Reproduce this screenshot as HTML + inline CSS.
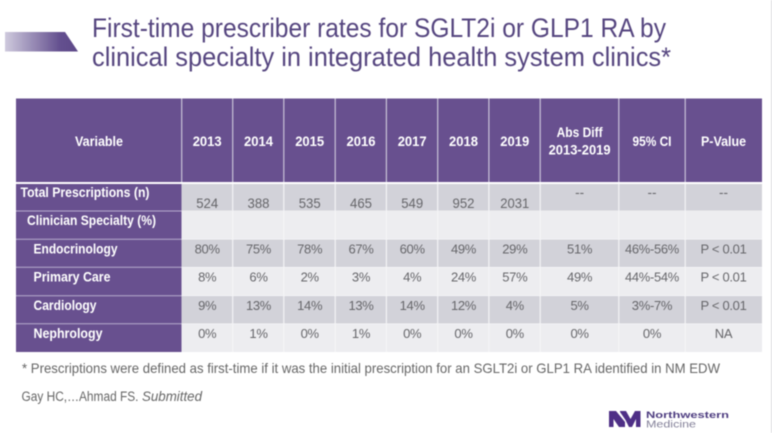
<!DOCTYPE html>
<html lang="en">
<head>
<meta charset="utf-8">
<title>First-time prescriber rates</title>
<style>
html,body{margin:0;padding:0;background:#fff;width:772px;height:433px;overflow:hidden}
svg{display:block;filter:blur(0.4px)}
text{font-family:"Liberation Sans",sans-serif}
.h{font-size:13.5px;font-weight:700;fill:#fff;text-anchor:middle}
.l{font-size:13.5px;font-weight:700;fill:#fff}
.v{font-size:13px;letter-spacing:-0.3px;fill:#66666a;text-anchor:middle}
.n{font-size:13.5px;fill:#66666a;text-anchor:middle}
.sep{stroke:#f4f4f6;stroke-width:1.2}
.hsep{stroke:#c9c3d8;stroke-width:1.2}
.rowline{stroke:#b7abcd;stroke-width:1}
</style>
</head>
<body>
<svg xmlns="http://www.w3.org/2000/svg" width="772" height="433" viewBox="0 0 772 433">
<defs>
<linearGradient id="arrowGrad" x1="0" x2="1" y1="0" y2="0">
<stop offset="0" stop-color="#cfcadd"/>
<stop offset="0.75" stop-color="#64508f"/>
<stop offset="1" stop-color="#5d4888"/>
</linearGradient>
</defs>
<rect x="0" y="0" width="772" height="433" fill="#fff"/>
<rect x="771" y="0" width="1" height="433" fill="#dcdcdf"/>
<polygon points="5,32 65,32 78,51.5 5,51.5" fill="url(#arrowGrad)"/>
<g fill="#55457f" font-size="27">
<text x="92" y="37" textLength="574" lengthAdjust="spacingAndGlyphs">First-time prescriber rates for SGLT2i or GLP1 RA by</text>
<text x="92" y="66" textLength="579" lengthAdjust="spacingAndGlyphs">clinical specialty in integrated health system clinics*</text>
</g>

<g>
<rect x="16" y="98.5" width="746" height="83.5" fill="#68508f"/>
<rect x="181.5" y="184" width="580.5" height="26.7" fill="#d2d2d9"/>
<rect x="181.5" y="211" width="580.5" height="28" fill="#ededf0"/>
<rect x="181.5" y="239.5" width="580.5" height="27.5" fill="#d2d2d9"/>
<rect x="181.5" y="267.5" width="580.5" height="28" fill="#ededf0"/>
<rect x="181.5" y="296" width="580.5" height="27.5" fill="#d2d2d9"/>
<rect x="181.5" y="324" width="580.5" height="28" fill="#ededf0"/>
<rect x="16" y="184" width="165.5" height="168" fill="#68508f"/>
<g>
<line class="rowline" x1="16" x2="181.5" y1="211" y2="211"/>
<line class="rowline" x1="16" x2="181.5" y1="239.2" y2="239.2"/>
<line class="rowline" x1="16" x2="181.5" y1="267.3" y2="267.3"/>
<line class="rowline" x1="16" x2="181.5" y1="295.7" y2="295.7"/>
<line class="rowline" x1="16" x2="181.5" y1="323.8" y2="323.8"/>
</g>
<g>
<line class="hsep" x1="181.7" x2="181.7" y1="98.5" y2="182"/>
<line class="hsep" x1="232.7" x2="232.7" y1="98.5" y2="182"/>
<line class="hsep" x1="283.8" x2="283.8" y1="98.5" y2="182"/>
<line class="hsep" x1="335.2" x2="335.2" y1="98.5" y2="182"/>
<line class="hsep" x1="386.4" x2="386.4" y1="98.5" y2="182"/>
<line class="hsep" x1="437.7" x2="437.7" y1="98.5" y2="182"/>
<line class="hsep" x1="488.9" x2="488.9" y1="98.5" y2="182"/>
<line class="hsep" x1="540.2" x2="540.2" y1="98.5" y2="182"/>
<line class="hsep" x1="618.8" x2="618.8" y1="98.5" y2="182"/>
<line class="hsep" x1="685.2" x2="685.2" y1="98.5" y2="182"/>
</g>
<g>
<line class="sep" x1="232.7" x2="232.7" y1="184" y2="352"/>
<line class="sep" x1="283.8" x2="283.8" y1="184" y2="352"/>
<line class="sep" x1="335.2" x2="335.2" y1="184" y2="352"/>
<line class="sep" x1="386.4" x2="386.4" y1="184" y2="352"/>
<line class="sep" x1="437.7" x2="437.7" y1="184" y2="352"/>
<line class="sep" x1="488.9" x2="488.9" y1="184" y2="352"/>
<line class="sep" x1="540.2" x2="540.2" y1="184" y2="352"/>
<line class="sep" x1="618.8" x2="618.8" y1="184" y2="352"/>
<line class="sep" x1="685.2" x2="685.2" y1="184" y2="352"/>
</g>

<g>
<text class="h" x="99" y="146" textLength="48" lengthAdjust="spacingAndGlyphs">Variable</text>
<text class="h" x="207.2" y="146" textLength="29" lengthAdjust="spacingAndGlyphs">2013</text>
<text class="h" x="258.5" y="146" textLength="29" lengthAdjust="spacingAndGlyphs">2014</text>
<text class="h" x="309.7" y="146" textLength="29" lengthAdjust="spacingAndGlyphs">2015</text>
<text class="h" x="361" y="146" textLength="29" lengthAdjust="spacingAndGlyphs">2016</text>
<text class="h" x="412.2" y="146" textLength="29" lengthAdjust="spacingAndGlyphs">2017</text>
<text class="h" x="463.5" y="146" textLength="29" lengthAdjust="spacingAndGlyphs">2018</text>
<text class="h" x="514.8" y="146" textLength="29" lengthAdjust="spacingAndGlyphs">2019</text>
<text class="h" x="579.6" y="137" textLength="46" lengthAdjust="spacingAndGlyphs">Abs Diff</text>
<text class="h" x="579.6" y="154.5" textLength="62" lengthAdjust="spacingAndGlyphs">2013-2019</text>
<text class="h" x="652" y="146" textLength="39" lengthAdjust="spacingAndGlyphs">95% CI</text>
<text class="h" x="723.5" y="146" textLength="45" lengthAdjust="spacingAndGlyphs">P-Value</text>
</g>

<g>
<text class="l" x="20.5" y="197" textLength="129" lengthAdjust="spacingAndGlyphs">Total Prescriptions (n)</text>
<text class="n" x="207.2" y="208" textLength="22" lengthAdjust="spacingAndGlyphs">524</text>
<text class="n" x="258.5" y="208" textLength="22" lengthAdjust="spacingAndGlyphs">388</text>
<text class="n" x="309.7" y="208" textLength="22" lengthAdjust="spacingAndGlyphs">535</text>
<text class="n" x="361" y="208" textLength="22" lengthAdjust="spacingAndGlyphs">465</text>
<text class="n" x="412.2" y="208" textLength="22" lengthAdjust="spacingAndGlyphs">549</text>
<text class="n" x="463.5" y="208" textLength="22" lengthAdjust="spacingAndGlyphs">952</text>
<text class="n" x="514.8" y="208" textLength="29" lengthAdjust="spacingAndGlyphs">2031</text>
<text class="n" x="579.6" y="197">--</text>
<text class="n" x="652" y="197">--</text>
<text class="n" x="723.5" y="197">--</text>
</g>

<text class="l" x="27" y="225" textLength="129" lengthAdjust="spacingAndGlyphs">Clinician Specialty (%)</text>

<g>
<text class="l" x="33.5" y="253.5" textLength="84" lengthAdjust="spacingAndGlyphs">Endocrinology</text>
<text class="v" x="207.2" y="253.5">80%</text>
<text class="v" x="258.5" y="253.5">75%</text>
<text class="v" x="309.7" y="253.5">78%</text>
<text class="v" x="361" y="253.5">67%</text>
<text class="v" x="412.2" y="253.5">60%</text>
<text class="v" x="463.5" y="253.5">49%</text>
<text class="v" x="514.8" y="253.5">29%</text>
<text class="v" x="579.6" y="253.5">51%</text>
<text class="v" x="652" y="253.5" textLength="54" lengthAdjust="spacingAndGlyphs">46%-56%</text>
<text class="v" x="723.5" y="253.5" textLength="46" lengthAdjust="spacingAndGlyphs">P &lt; 0.01</text>
</g>

<g>
<text class="l" x="33.5" y="281.7" textLength="77" lengthAdjust="spacingAndGlyphs">Primary Care</text>
<text class="v" x="207.2" y="281.7">8%</text>
<text class="v" x="258.5" y="281.7">6%</text>
<text class="v" x="309.7" y="281.7">2%</text>
<text class="v" x="361" y="281.7">3%</text>
<text class="v" x="412.2" y="281.7">4%</text>
<text class="v" x="463.5" y="281.7">24%</text>
<text class="v" x="514.8" y="281.7">57%</text>
<text class="v" x="579.6" y="281.7">49%</text>
<text class="v" x="652" y="281.7" textLength="54" lengthAdjust="spacingAndGlyphs">44%-54%</text>
<text class="v" x="723.5" y="281.7" textLength="46" lengthAdjust="spacingAndGlyphs">P &lt; 0.01</text>
</g>

<g>
<text class="l" x="33.5" y="310" textLength="63" lengthAdjust="spacingAndGlyphs">Cardiology</text>
<text class="v" x="207.2" y="310">9%</text>
<text class="v" x="258.5" y="310">13%</text>
<text class="v" x="309.7" y="310">14%</text>
<text class="v" x="361" y="310">13%</text>
<text class="v" x="412.2" y="310">14%</text>
<text class="v" x="463.5" y="310">12%</text>
<text class="v" x="514.8" y="310">4%</text>
<text class="v" x="579.6" y="310">5%</text>
<text class="v" x="652" y="310">3%-7%</text>
<text class="v" x="723.5" y="310" textLength="46" lengthAdjust="spacingAndGlyphs">P &lt; 0.01</text>
</g>

<g>
<text class="l" x="33.5" y="338" textLength="69" lengthAdjust="spacingAndGlyphs">Nephrology</text>
<text class="v" x="207.2" y="338">0%</text>
<text class="v" x="258.5" y="338">1%</text>
<text class="v" x="309.7" y="338">0%</text>
<text class="v" x="361" y="338">1%</text>
<text class="v" x="412.2" y="338">0%</text>
<text class="v" x="463.5" y="338">0%</text>
<text class="v" x="514.8" y="338">0%</text>
<text class="v" x="579.6" y="338">0%</text>
<text class="v" x="652" y="338">0%</text>
<text class="v" x="723.5" y="338">NA</text>
</g>
</g>

<text x="22" y="373" font-size="14" fill="#666" textLength="698" lengthAdjust="spacingAndGlyphs">* Prescriptions were defined as first-time if it was the initial prescription for an SGLT2i or GLP1 RA identified in NM EDW</text>
<text x="21.5" y="401" font-size="13.5" fill="#666" textLength="117" lengthAdjust="spacingAndGlyphs">Gay HC,…Ahmad FS.</text>
<text x="142" y="401" font-size="13.5" font-style="italic" fill="#666" textLength="60" lengthAdjust="spacingAndGlyphs">Submitted</text>

<g>
<polygon points="609,411 616,411 625,422 625,427 619,427 613.5,419 613.5,427 609,427" fill="#4e2f86"/>
<polygon points="620,411 626,411 630.5,419 635,411 640.5,411 640.5,427 636,427 636,419 632,427 629,427 625.5,420 620,412" fill="#4e2f86"/>
<text x="646" y="417.8" font-size="9.5" font-weight="700" fill="#4e3d80" textLength="83" lengthAdjust="spacingAndGlyphs">Northwestern</text>
<text x="646" y="427.3" font-size="10" fill="#85829a" textLength="50" lengthAdjust="spacingAndGlyphs">Medicine</text>
</g>
</svg>
</body>
</html>
